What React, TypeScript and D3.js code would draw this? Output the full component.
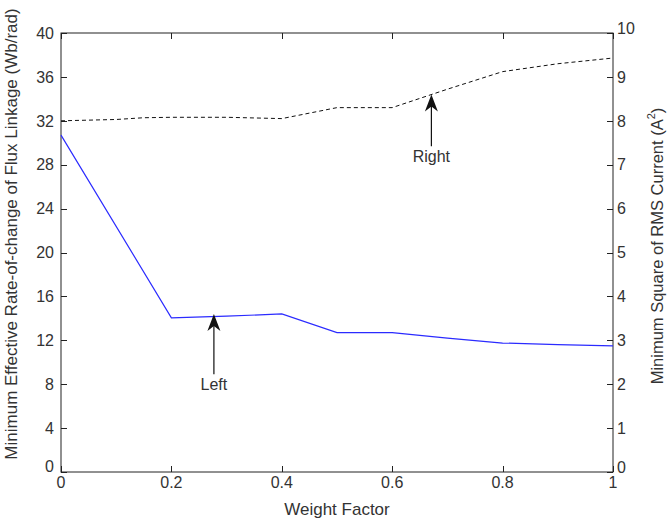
import React, { useEffect, useRef } from "react";
import * as d3 from "d3";

const weightFactors = [0, 0.2, 0.3, 0.4, 0.5, 0.6, 0.7, 0.8, 0.9, 1.0];
const fluxValues = [30.7, 14.05, 14.2, 14.4, 12.7, 12.7, 12.2, 11.75, 11.6, 11.5];
const rmsX = [0, 0.1, 0.15, 0.2, 0.3, 0.4, 0.5, 0.6, 0.7, 0.8, 0.9, 1.0];
const rmsValues = [8.0, 8.03, 8.07, 8.08, 8.08, 8.05, 8.3, 8.3, 8.72, 9.12, 9.3, 9.43];
const xTicks = [0, 0.2, 0.4, 0.6, 0.8, 1];
const leftTicks = [0, 4, 8, 12, 16, 20, 24, 28, 32, 36, 40];
const rightTicks = [0, 1, 2, 3, 4, 5, 6, 7, 8, 9, 10];
const annotations = [
  { label: "Left", x: 0.277, tip: 14.4, axis: "left", base: 8.9 },
  { label: "Right", x: 0.671, tip: 8.6, axis: "right", base: 7.42 },
];

const W = 668, H = 518;
const M = { left: 61, right: 613, top: 33, bottom: 472 };

export default function App() {
  const ref = useRef<SVGSVGElement>(null);
  useEffect(() => {
    const svg = d3.select(ref.current);
    svg.selectAll("*").remove();
    const x = d3.scaleLinear().domain([0, 1]).range([M.left, M.right]);
    const yL = d3.scaleLinear().domain([0, 40]).range([M.bottom, M.top]);
    const yR = d3.scaleLinear().domain([0, 10]).range([M.bottom, M.top]);
    const font = "'Liberation Sans', Arial, Helvetica, sans-serif";
    const axisColor = "#222";
    const textColor = "#333";

    svg.append("rect").attr("width", W).attr("height", H).attr("fill", "#fff");

    // box
    svg.append("rect")
      .attr("x", M.left).attr("y", M.top)
      .attr("width", M.right - M.left).attr("height", M.bottom - M.top)
      .attr("fill", "none").attr("stroke", axisColor).attr("stroke-width", 1);

    const tl = 6;
    // x ticks (bottom and top, inward)
    xTicks.forEach((t) => {
      const px = Math.round(x(t)) + 0.5;
      svg.append("line").attr("x1", px).attr("x2", px).attr("y1", M.bottom).attr("y2", M.bottom - tl).attr("stroke", axisColor);
      svg.append("line").attr("x1", px).attr("x2", px).attr("y1", M.top).attr("y2", M.top + tl).attr("stroke", axisColor);
      svg.append("text").attr("x", x(t)).attr("y", 488)
        .attr("text-anchor", "middle").attr("font-family", font).attr("font-size", 16)
        .attr("fill", textColor).text(String(t));
    });
    // left ticks
    leftTicks.forEach((t, i) => {
      const py = Math.round(yL(t)) + 0.5;
      svg.append("line").attr("x1", M.left).attr("x2", M.left + tl).attr("y1", py).attr("y2", py).attr("stroke", axisColor);
      svg.append("text").attr("x", 54).attr("y", yL(t) + (i === 0 ? -6 : 0))
        .attr("dy", "0.36em")
        .attr("text-anchor", "end").attr("font-family", font).attr("font-size", 16)
        .attr("fill", textColor).text(String(t));
    });
    // right ticks
    rightTicks.forEach((t, i) => {
      const py = Math.round(yR(t)) + 0.5;
      svg.append("line").attr("x1", M.right).attr("x2", M.right - tl).attr("y1", py).attr("y2", py).attr("stroke", axisColor);
      svg.append("text").attr("x", 617).attr("y", yR(t) + (i === 0 ? -5 : i === rightTicks.length - 1 ? -5 : 0))
        .attr("dy", "0.36em")
        .attr("text-anchor", "start").attr("font-family", font).attr("font-size", 16)
        .attr("fill", textColor).text(String(t));
    });

    // lines
    const lineL = d3.line<number>().x((_, i) => x(weightFactors[i])).y((d) => yL(d));
    svg.append("path").attr("d", lineL(fluxValues) as string)
      .attr("fill", "none").attr("stroke", "#2b2bff").attr("stroke-width", 1.2);
    const lineR = d3.line<number>().x((_, i) => x(rmsX[i])).y((d) => yR(d));
    svg.append("path").attr("d", lineR(rmsValues) as string)
      .attr("fill", "none").attr("stroke", "#111").attr("stroke-width", 1)
      .attr("stroke-dasharray", "4,3");

    // annotations
    annotations.forEach((a) => {
      const ys = a.axis === "left" ? yL : yR;
      const px = x(a.x);
      const tipY = ys(a.tip);
      const baseY = ys(a.base);
      svg.append("line").attr("x1", px).attr("x2", px).attr("y1", baseY).attr("y2", tipY + 8)
        .attr("stroke", "#111").attr("stroke-width", 1.2);
      const hl = 17, hw = 6.5;
      svg.append("path")
        .attr("d", `M${px},${tipY} L${px + hw},${tipY + hl} L${px},${tipY + hl - 5} L${px - hw},${tipY + hl} Z`)
        .attr("fill", "#111");
      svg.append("text").attr("x", px).attr("y", baseY + 16)
        .attr("text-anchor", "middle").attr("font-family", font).attr("font-size", 16)
        .attr("fill", textColor).text(a.label);
    });

    // axis labels
    svg.append("text").attr("x", (M.left + M.right) / 2).attr("y", 515)
      .attr("text-anchor", "middle").attr("font-family", font).attr("font-size", 17)
      .attr("fill", textColor).text("Weight Factor");
    svg.append("text").attr("transform", "translate(17,234) rotate(-90)")
      .attr("text-anchor", "middle").attr("font-family", font).attr("font-size", 17)
      .attr("fill", textColor).text("Minimum Effective Rate-of-change of Flux Linkage (Wb/rad)");
    const rt = svg.append("text").attr("transform", "translate(663,246) rotate(-90)")
      .attr("text-anchor", "middle").attr("font-family", font).attr("font-size", 16.5)
      .attr("fill", textColor);
    rt.append("tspan").text("Minimum Square of RMS Current (A");
    rt.append("tspan").attr("font-size", 11).attr("dy", -8).text("2");
    rt.append("tspan").attr("dy", 8).text(")");
  }, []);
  return (
    <svg ref={ref} width={W} height={H}
      style={{ position: "fixed", left: 0, top: 0, display: "block" }} />
  );
}
